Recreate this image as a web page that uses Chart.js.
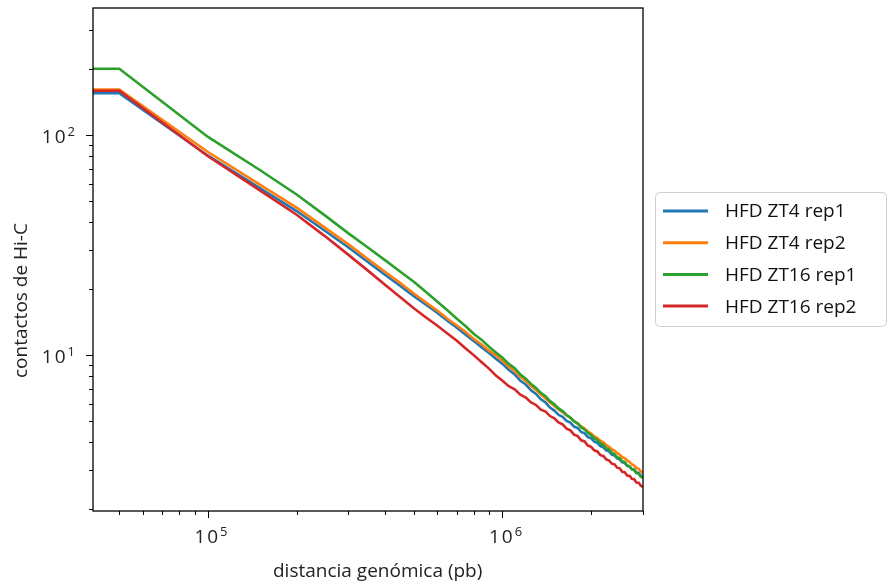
<!DOCTYPE html>
<html>
<head>
<meta charset="utf-8">
<script src="https://cdn.jsdelivr.net/npm/chart.js@4.4.1/dist/chart.umd.min.js"></script>
<style>
  html, body { margin: 0; padding: 0; background: #fff; }
</style>
</head>
<body>
<canvas id="chart" width="888" height="587"></canvas>
<script>
/* ================= DATOS ================= */
// distancia genómica (pb), bins de 50 kb
const DISTANCIAS = [
  40000, 50000, 100000, 150000, 200000, 250000, 300000, 350000, 400000, 450000,
  500000, 550000, 600000, 650000, 700000, 750000, 800000, 850000, 900000, 950000,
  1000000, 1050000, 1100000, 1150000, 1200000, 1250000, 1300000, 1350000, 1400000, 1450000,
  1500000, 1550000, 1600000, 1650000, 1700000, 1750000, 1800000, 1850000, 1900000, 1950000,
  2000000, 2050000, 2100000, 2150000, 2200000, 2250000, 2300000, 2350000, 2400000, 2450000,
  2500000, 2550000, 2600000, 2650000, 2700000, 2750000, 2800000, 2850000, 2900000, 2950000,
  3000000
];

const ZT4_REP1 = [
  155, 155, 80.5, 57.4, 45.1, 36.6, 30.8, 26.4, 23.1, 20.6,
  18.5, 16.9, 15.55, 14.3, 13.3, 12.35, 11.55, 10.8, 10.2, 9.6,
  9.1, 8.55, 8.15, 7.62, 7.33, 6.90, 6.64, 6.28, 6.07, 5.76,
  5.58, 5.34, 5.23, 5.01, 4.92, 4.72, 4.65, 4.46, 4.40, 4.23,
  4.17, 4.03, 3.98, 3.85, 3.80, 3.68, 3.64, 3.52, 3.49, 3.38,
  3.35, 3.25, 3.23, 3.13, 3.11, 3.02, 3.01, 2.91, 2.91, 2.82,
  2.80
];

const ZT4_REP2 = [
  161, 161, 83.7, 59.5, 46.7, 37.8, 31.8, 27.2, 23.8, 21.2,
  19.0, 17.3, 15.9, 14.6, 13.6, 12.7, 11.8, 11.15, 10.45, 9.95,
  9.39, 8.85, 8.44, 7.95, 7.62, 7.21, 6.92, 6.60, 6.34, 6.07,
  5.86, 5.64, 5.48, 5.30, 5.17, 5.00, 4.88, 4.73, 4.62, 4.48,
  4.39, 4.26, 4.18, 4.07, 4.00, 3.89, 3.82, 3.72, 3.67, 3.58,
  3.52, 3.43, 3.39, 3.31, 3.26, 3.18, 3.14, 3.06, 3.03, 2.95,
  2.92
];

const ZT16_REP1 = [
  200, 200, 98, 69.3, 53.6, 43.0, 35.7, 30.7, 26.9, 23.9,
  21.5, 19.3, 17.5, 15.95, 14.6, 13.5, 12.45, 11.7, 10.9, 10.25,
  9.7, 9.1, 8.7, 8.15, 7.8, 7.38, 7.08, 6.72, 6.48, 6.16,
  5.96, 5.71, 5.55, 5.33, 5.19, 4.98, 4.87, 4.68, 4.58, 4.41,
  4.32, 4.17, 4.10, 3.96, 3.90, 3.76, 3.71, 3.59, 3.54, 3.42,
  3.39, 3.28, 3.25, 3.14, 3.11, 3.02, 2.99, 2.90, 2.88, 2.79,
  2.77
];

const ZT16_REP2 = [
  159, 159, 80, 56.0, 43.4, 34.6, 28.5, 24.1, 20.8, 18.3,
  16.3, 14.8, 13.6, 12.5, 11.6, 10.7, 9.95, 9.25, 8.66, 8.05,
  7.62, 7.21, 6.97, 6.59, 6.40, 6.08, 5.92, 5.64, 5.52, 5.27,
  5.15, 4.93, 4.83, 4.62, 4.54, 4.34, 4.27, 4.09, 4.04, 3.87,
  3.82, 3.68, 3.64, 3.50, 3.47, 3.35, 3.31, 3.20, 3.18, 3.07,
  3.05, 2.94, 2.93, 2.83, 2.82, 2.73, 2.72, 2.63, 2.62, 2.54,
  2.51
];

const SERIES = ["HFD ZT4 rep1", "HFD ZT4 rep2", "HFD ZT16 rep1", "HFD ZT16 rep2"];
const COLORES = ["#1f77b4", "#ff7f0e", "#2ca02c", "#d62728"];

// etiquetas de los ejes (potencias de diez)
const X_ETIQUETAS = [1e5, 1e6];
const Y_ETIQUETAS = [1e1, 1e2];
const X_RANGO = [40700, 3000000];
const Y_RANGO = [1.95, 378];

const FUENTE = "'Open Sans', 'Noto Sans', sans-serif";

/* ================= EJES Y LEYENDA ================= */
function marcasLog(min, max) {
  const out = [];
  for (let e = Math.floor(Math.log10(min)); e <= Math.ceil(Math.log10(max)); e++) {
    for (let m = 1; m <= 9; m++) {
      const v = m * Math.pow(10, e);
      if (v >= min * 0.999 && v <= max * 1.001) out.push({v, mayor: m === 1});
    }
  }
  return out;
}

function potencia(ctx, v, x, y, alinear) {
  const exp = String(Math.round(Math.log10(v)));
  ctx.font = "19px " + FUENTE;
  const wBase = ctx.measureText("10").width + 2;
  ctx.font = "13px " + FUENTE;
  const wExp = ctx.measureText(exp).width;
  const total = wBase + 2 + wExp;
  const x0 = alinear === "right" ? x - total : x - total / 2;
  ctx.textAlign = "left";
  ctx.textBaseline = "alphabetic";
  ctx.font = "19px " + FUENTE;
  ctx.fillText("1", x0, y);
  ctx.fillText("0", x0 + ctx.measureText("1").width + 2, y);
  ctx.font = "13px " + FUENTE;
  ctx.fillText(exp, x0 + wBase + 2, y - 7);
}

const ejesMatplotlib = {
  id: "ejesMatplotlib",
  afterDraw(chart) {
    const {ctx, chartArea: a, scales: {x, y}} = chart;
    ctx.save();
    ctx.fillStyle = "#000";
    ctx.strokeStyle = "#000";

    // marco completo
    ctx.lineWidth = 1.3;
    ctx.strokeRect(a.left, a.top, a.right - a.left, a.bottom - a.top);

    // marcas del eje x
    ctx.lineWidth = 1;
    marcasLog(X_RANGO[0], X_RANGO[1]).forEach(t => {
      const px = Math.round(x.getPixelForValue(t.v)) + 0.5;
      ctx.beginPath();
      ctx.moveTo(px, a.bottom);
      ctx.lineTo(px, a.bottom + (t.mayor ? 7 : 4));
      ctx.stroke();
    });
    // marcas del eje y
    marcasLog(Y_RANGO[0], Y_RANGO[1]).forEach(t => {
      const py = Math.round(y.getPixelForValue(t.v)) + 0.5;
      ctx.beginPath();
      ctx.moveTo(a.left, py);
      ctx.lineTo(a.left - (t.mayor ? 7 : 4), py);
      ctx.stroke();
    });

    ctx.fillStyle = "#222";
    X_ETIQUETAS.forEach(v => potencia(ctx, v, x.getPixelForValue(v) + 3, a.bottom + 32, "center"));
    Y_ETIQUETAS.forEach(v => potencia(ctx, v, a.left - 18, y.getPixelForValue(v) + 8, "right"));

    // títulos de los ejes
    ctx.font = "19px " + FUENTE;
    ctx.textAlign = "left";
    ctx.textBaseline = "alphabetic";
    ctx.fillText("distancia genómica (pb)", 273, 577);
    ctx.save();
    ctx.translate(27, 378);
    ctx.rotate(-Math.PI / 2);
    ctx.fillText("contactos de Hi-C", 0, 0);
    ctx.restore();

    // leyenda
    const lx = 655.5, ly = 192.5, lw = 231, lh = 134;
    ctx.beginPath();
    ctx.roundRect(lx, ly, lw, lh, 4);
    ctx.fillStyle = "rgba(255,255,255,0.85)";
    ctx.fill();
    ctx.strokeStyle = "#d0d0d0";
    ctx.lineWidth = 1;
    ctx.stroke();
    chart.data.datasets.forEach((ds, i) => {
      const fy = 211 + i * 31.7;
      ctx.strokeStyle = ds.borderColor;
      ctx.lineWidth = 3;
      ctx.beginPath();
      ctx.moveTo(663, fy);
      ctx.lineTo(708, fy);
      ctx.stroke();
      ctx.fillStyle = "#111";
      ctx.font = "19px " + FUENTE;
      ctx.textBaseline = "middle";
      ctx.fillText(ds.label, 725, fy + 1);
    });
    ctx.restore();
  }
};

/* ================= GRÁFICO ================= */
const valores = [ZT4_REP1, ZT4_REP2, ZT16_REP1, ZT16_REP2];

new Chart(document.getElementById("chart"), {
  type: "line",
  data: {
    datasets: SERIES.map((nombre, i) => ({
      label: nombre,
      data: DISTANCIAS.map((d, j) => ({x: d, y: valores[i][j]})),
      borderColor: COLORES[i],
      borderWidth: 2.6,
      pointRadius: 0,
      tension: 0,
      fill: false,
      order: SERIES.length - i
    }))
  },
  options: {
    responsive: false,
    animation: false,
    layout: {padding: {top: 8, right: 245, left: 0, bottom: 0}},
    plugins: {
      legend: {display: false},
      tooltip: {enabled: false}
    },
    scales: {
      x: {
        type: "logarithmic",
        min: X_RANGO[0], max: X_RANGO[1],
        grid: {display: false},
        border: {display: false},
        ticks: {display: false},
        afterFit(s) { s.height = 76; }
      },
      y: {
        type: "logarithmic",
        min: Y_RANGO[0], max: Y_RANGO[1],
        grid: {display: false},
        border: {display: false},
        ticks: {display: false},
        afterFit(s) { s.width = 93; }
      }
    }
  },
  plugins: [ejesMatplotlib]
});
</script>
</body>
</html>
